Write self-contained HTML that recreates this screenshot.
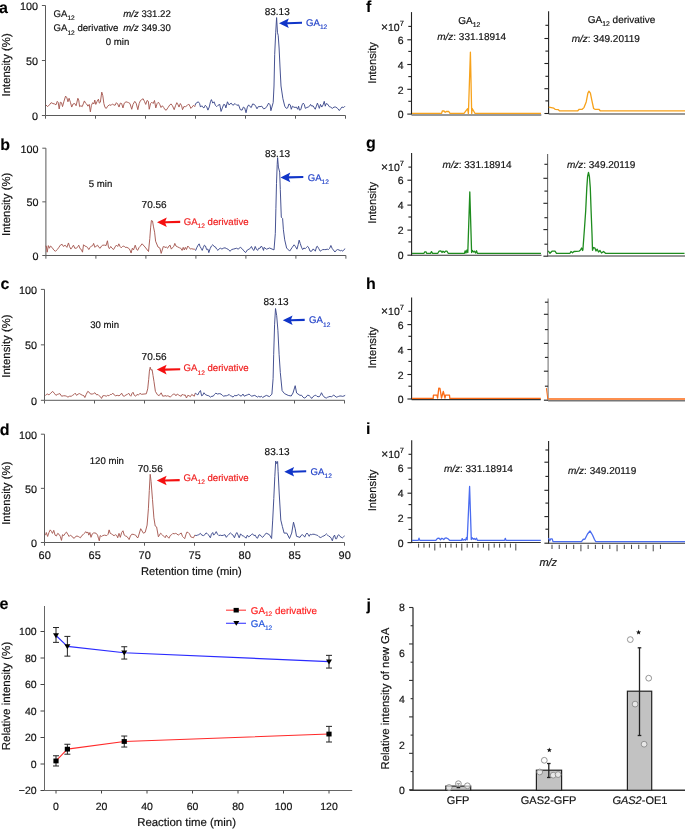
<!DOCTYPE html>
<html><head><meta charset="utf-8"><style>
html,body{margin:0;padding:0;background:#fff;overflow:hidden;width:685px;height:829px;}
svg{display:block;font-family:"Liberation Sans", sans-serif;will-change:transform;text-rendering:geometricPrecision;}
</style></head><body>
<svg width="685" height="829" viewBox="0 0 685 829">
<rect width="685" height="829" fill="#fff"/>
<line x1="45.50" y1="5.50" x2="45.50" y2="115.50" stroke="#5a5a5a" stroke-width="1" />
<line x1="41.90" y1="5.50" x2="45.50" y2="5.50" stroke="#5a5a5a" stroke-width="1" />
<text x="38.10" y="9.80" font-size="10.8" text-anchor="end" fill="#111" stroke="#111" stroke-width="0.18" font-weight="normal" font-style="normal" >100</text>
<line x1="41.90" y1="60.50" x2="45.50" y2="60.50" stroke="#5a5a5a" stroke-width="1" />
<text x="38.10" y="64.80" font-size="10.8" text-anchor="end" fill="#111" stroke="#111" stroke-width="0.18" font-weight="normal" font-style="normal" >50</text>
<line x1="41.90" y1="115.50" x2="45.50" y2="115.50" stroke="#5a5a5a" stroke-width="1" />
<text x="38.10" y="119.80" font-size="10.8" text-anchor="end" fill="#111" stroke="#111" stroke-width="0.18" font-weight="normal" font-style="normal" >0</text>
<line x1="45.50" y1="115.50" x2="345.50" y2="115.50" stroke="#5a5a5a" stroke-width="1" />
<line x1="45.50" y1="115.50" x2="45.50" y2="118.70" stroke="#5a5a5a" stroke-width="1" />
<line x1="95.50" y1="115.50" x2="95.50" y2="118.70" stroke="#5a5a5a" stroke-width="1" />
<line x1="145.50" y1="115.50" x2="145.50" y2="118.70" stroke="#5a5a5a" stroke-width="1" />
<line x1="195.50" y1="115.50" x2="195.50" y2="118.70" stroke="#5a5a5a" stroke-width="1" />
<line x1="245.50" y1="115.50" x2="245.50" y2="118.70" stroke="#5a5a5a" stroke-width="1" />
<line x1="295.50" y1="115.50" x2="295.50" y2="118.70" stroke="#5a5a5a" stroke-width="1" />
<line x1="345.50" y1="115.50" x2="345.50" y2="118.70" stroke="#5a5a5a" stroke-width="1" />
<text x="-0.90" y="13.10" font-size="16" text-anchor="start" fill="#000" stroke="#000" stroke-width="0.1" font-weight="bold" font-style="normal" >a</text>
<text x="0" y="0" font-size="11.4" text-anchor="middle" fill="#111" stroke="#111" stroke-width="0.18" transform="translate(10.0,64.85) rotate(-90)">Intensity (%)</text>
<polyline points="45.88,104.86 47.63,106.61 49.38,104.86 51.13,102.67 52.88,103.54 54.64,103.98 55.95,104.86 57.26,101.35 58.14,102.23 59.19,108.98 60.33,102.23 61.47,102.67 62.52,106.61 63.83,101.79 65.58,96.09 66.90,97.84 67.95,101.79 69.09,98.28 70.40,102.23 71.72,107.05 73.03,103.98 74.78,103.54 76.09,105.74 77.85,98.28 78.72,100.04 79.60,106.61 80.91,105.74 82.23,106.61 83.54,103.11 84.42,100.91 85.47,103.11 86.61,103.98 87.92,106.18 89.23,104.42 90.37,111.88 91.42,105.30 92.74,102.67 93.88,103.98 94.75,100.04 95.80,104.42 97.12,101.35 98.43,99.16 99.31,103.11 100.36,102.23 101.76,92.14 102.81,95.65 103.86,103.54 105.00,107.49 106.31,108.37 107.63,106.18 109.38,104.86 111.13,105.30 112.45,103.98 113.76,104.86 115.07,105.30 116.39,102.67 117.70,103.98 119.01,107.05 120.33,103.11 121.64,103.54 122.96,107.93 124.27,103.11 126.02,101.79 127.34,102.23 128.65,102.67 129.96,103.54 131.72,109.25 133.03,104.42 134.78,101.35 136.09,103.11 137.85,109.68 139.16,103.54 140.47,100.47 141.79,99.60 143.10,98.72 144.42,101.35 145.73,104.42 147.04,100.47 148.36,101.35 149.23,109.25 150.55,103.54 151.86,102.23 153.18,103.54 154.49,100.47 155.80,107.93 157.12,103.54 158.43,102.23 159.74,104.42 161.06,107.49 162.37,105.74 163.69,107.49 165.00,109.68 166.31,110.12 168.07,107.49 169.82,104.86 171.13,103.98 172.45,105.74 174.20,109.68 175.51,105.74 176.82,102.67 178.14,104.86 179.01,107.05 180.33,103.54 181.64,105.74 182.52,109.68 183.83,106.61 185.58,106.61 186.90,105.74 188.65,103.98 189.96,106.18 190.84,108.37 192.15,107.05 193.47,105.30 194.78,106.61 195.20,105.15" fill="none" stroke="#a65a52" stroke-width="0.95" stroke-linejoin="round" />
<polyline points="195.20,105.15 195.66,103.54 196.97,102.67 198.28,101.79 199.60,103.54 200.47,107.05 201.79,105.74 202.66,107.05 203.98,107.93 205.29,105.30 206.61,106.61 207.92,110.12 209.23,107.05 210.55,101.35 211.42,99.60 212.74,103.11 214.05,101.79 215.36,105.30 216.68,106.61 217.99,105.30 219.74,104.42 221.06,111.44 222.37,107.93 223.69,104.42 225.00,104.86 225.88,107.93 227.45,101.79 228.94,104.86 231.13,103.11 232.88,105.30 235.07,103.54 236.82,105.30 238.58,104.86 240.33,109.68 242.08,110.12 243.39,107.05 244.71,107.93 246.02,112.75 247.34,107.05 248.65,104.86 249.96,106.61 251.28,107.49 252.59,103.98 254.34,104.42 255.66,106.18 256.97,108.81 258.28,106.61 260.04,106.61 261.79,106.18 263.54,108.81 265.29,108.37 267.04,106.18 268.62,103.11 270.11,104.86 270.90,110.70 273.20,102.50 274.00,86.00 274.70,54.30 275.70,32.80 276.60,17.60 277.50,32.80 278.20,35.30 279.10,48.00 280.00,67.00 281.00,86.00 282.90,98.70 284.80,106.30 286.10,108.20 286.31,108.37 287.63,107.93 288.94,103.98 290.26,104.86 291.31,109.25 292.45,106.18 293.76,107.05 295.07,107.49 296.39,107.05 297.70,109.25 298.58,106.18 299.45,110.12 300.77,109.68 302.08,104.86 303.22,103.11 304.27,104.42 305.32,108.37 306.90,107.49 308.21,107.05 309.53,106.18 310.58,104.42 311.72,106.18 313.03,105.74 314.34,107.93 315.22,109.25 316.36,106.18 317.41,103.11 318.46,105.74 319.34,108.37 320.47,104.42 321.79,107.05 323.10,104.86 324.24,101.35 325.29,106.18 326.17,103.54 327.92,104.42 329.23,106.61 330.55,107.05 332.30,108.37 334.05,107.05 335.80,107.05 337.55,108.37 339.31,110.56 340.62,108.81 341.93,107.05 343.69,107.49 345.00,106.18" fill="none" stroke="#3d4a8c" stroke-width="0.95" stroke-linejoin="round" />
<text x="53.50" y="16.70" font-size="9.6" text-anchor="start" fill="#111" stroke="#111" stroke-width="0.18" font-weight="normal" font-style="normal" >GA<tspan font-size="6.60" dy="3.30">12</tspan><tspan dy="-3.30"> </tspan></text>
<text x="170.80" y="16.70" font-size="9.6" text-anchor="end" fill="#111" stroke="#111" stroke-width="0.18" font-weight="normal" font-style="normal" ><tspan font-style="italic">m/z</tspan> 331.22</text>
<text x="53.50" y="31.30" font-size="9.6" text-anchor="start" fill="#111" stroke="#111" stroke-width="0.18" font-weight="normal" font-style="normal" >GA<tspan font-size="6.60" dy="3.30">12</tspan><tspan dy="-3.30"> </tspan>derivative</text>
<text x="170.80" y="31.30" font-size="9.6" text-anchor="end" fill="#111" stroke="#111" stroke-width="0.18" font-weight="normal" font-style="normal" ><tspan font-style="italic">m/z</tspan> 349.30</text>
<text x="117.60" y="45.20" font-size="9.6" text-anchor="middle" fill="#111" stroke="#111" stroke-width="0.18" font-weight="normal" font-style="normal" >0 min</text>
<text x="277.20" y="14.50" font-size="10" text-anchor="middle" fill="#111" stroke="#111" stroke-width="0.18" font-weight="normal" font-style="normal" >83.13</text>
<polygon points="279.00,23.20 288.80,18.40 287.30,22.15 302.00,21.75 302.00,23.85 287.30,24.25 288.80,28.00" fill="#1035c8" />
<text x="306.00" y="26.10" font-size="9.6" text-anchor="start" fill="#2040c8" stroke="#2040c8" stroke-width="0.18" font-weight="normal" font-style="normal" >GA<tspan font-size="6.60" dy="3.30">12</tspan><tspan dy="-3.30"> </tspan></text>
<line x1="45.90" y1="148.20" x2="45.90" y2="255.50" stroke="#5a5a5a" stroke-width="1" />
<line x1="42.30" y1="148.20" x2="45.90" y2="148.20" stroke="#5a5a5a" stroke-width="1" />
<text x="38.50" y="152.50" font-size="10.8" text-anchor="end" fill="#111" stroke="#111" stroke-width="0.18" font-weight="normal" font-style="normal" >100</text>
<line x1="42.30" y1="201.85" x2="45.90" y2="201.85" stroke="#5a5a5a" stroke-width="1" />
<text x="38.50" y="206.15" font-size="10.8" text-anchor="end" fill="#111" stroke="#111" stroke-width="0.18" font-weight="normal" font-style="normal" >50</text>
<line x1="42.30" y1="255.50" x2="45.90" y2="255.50" stroke="#5a5a5a" stroke-width="1" />
<text x="38.50" y="259.80" font-size="10.8" text-anchor="end" fill="#111" stroke="#111" stroke-width="0.18" font-weight="normal" font-style="normal" >0</text>
<line x1="45.90" y1="255.50" x2="345.90" y2="255.50" stroke="#5a5a5a" stroke-width="1" />
<line x1="45.90" y1="255.50" x2="45.90" y2="258.70" stroke="#5a5a5a" stroke-width="1" />
<line x1="95.90" y1="255.50" x2="95.90" y2="258.70" stroke="#5a5a5a" stroke-width="1" />
<line x1="145.90" y1="255.50" x2="145.90" y2="258.70" stroke="#5a5a5a" stroke-width="1" />
<line x1="195.90" y1="255.50" x2="195.90" y2="258.70" stroke="#5a5a5a" stroke-width="1" />
<line x1="245.90" y1="255.50" x2="245.90" y2="258.70" stroke="#5a5a5a" stroke-width="1" />
<line x1="295.90" y1="255.50" x2="295.90" y2="258.70" stroke="#5a5a5a" stroke-width="1" />
<line x1="345.90" y1="255.50" x2="345.90" y2="258.70" stroke="#5a5a5a" stroke-width="1" />
<text x="0.20" y="149.80" font-size="16" text-anchor="start" fill="#000" stroke="#000" stroke-width="0.1" font-weight="bold" font-style="normal" >b</text>
<text x="0" y="0" font-size="11.4" text-anchor="middle" fill="#111" stroke="#111" stroke-width="0.18" transform="translate(10.0,204.30) rotate(-90)">Intensity (%)</text>
<polyline points="45.53,246.04 46.31,246.04 47.19,252.18 48.33,245.60 49.38,248.23 50.43,246.04 52.01,247.35 53.76,249.98 55.51,251.30 57.26,249.54 58.58,247.79 60.33,245.16 62.08,244.28 63.39,246.47 65.15,245.16 66.90,247.35 68.47,242.96 69.53,246.47 70.84,249.11 72.15,247.35 73.47,245.16 74.78,248.23 76.53,248.23 77.85,246.47 78.72,245.16 80.04,248.67 81.35,249.54 82.49,252.18 83.54,244.72 84.85,246.04 86.17,246.47 87.48,247.35 88.80,249.54 90.11,247.35 91.42,246.04 92.74,245.60 93.61,243.40 94.93,247.35 96.24,246.04 97.55,245.16 98.87,247.35 100.18,248.23 101.50,246.04 102.81,245.16 104.56,245.16 105.00,245.16 106.05,245.60 107.45,240.77 108.50,247.35 109.38,248.67 110.69,246.47 112.01,248.23 113.58,249.54 115.07,246.91 116.39,245.16 117.70,246.47 118.84,243.84 120.07,246.47 121.20,247.79 122.52,246.47 123.83,246.04 125.15,247.35 126.90,247.35 128.65,248.23 129.96,249.98 131.10,253.05 132.33,248.23 133.47,249.98 135.22,245.16 136.53,249.11 137.58,250.42 139.16,247.35 140.00,246.50 142.10,243.80 145.00,247.00 148.50,251.50 149.80,238.50 150.60,227.90 151.40,220.50 152.50,221.00 153.50,226.90 154.60,232.20 155.60,241.20 158.00,247.00 159.90,248.10 161.20,253.40 163.30,246.50 166.00,247.50 166.31,246.91 167.63,248.23 168.94,246.04 170.08,245.16 171.31,249.11 172.71,247.35 173.76,246.47 174.81,243.40 175.95,246.04 177.70,246.91 179.45,247.79 180.77,248.23 182.08,250.42 183.22,247.35 184.27,249.98 185.32,247.35 186.46,249.54 187.77,246.04 189.09,247.35 190.40,249.11 191.72,248.67 193.03,249.11 194.34,249.11 195.20,249.96" fill="none" stroke="#a65a52" stroke-width="0.95" stroke-linejoin="round" />
<polyline points="195.20,249.96 195.66,250.42 196.71,247.79 198.11,245.16 199.16,243.84 200.04,246.47 201.09,248.23 202.23,250.42 203.36,247.35 204.42,245.16 205.47,246.04 206.61,249.54 207.92,249.11 208.80,252.61 210.11,248.67 211.42,246.04 212.74,244.72 214.05,246.47 215.36,246.91 216.68,249.11 217.99,250.42 219.31,248.67 220.62,248.23 221.93,249.11 223.25,248.23 225.00,247.79 226.75,248.67 228.50,249.54 230.08,251.30 231.57,249.54 233.32,249.11 235.07,248.67 236.39,248.23 238.14,249.11 240.33,247.35 242.08,248.67 243.83,250.86 245.58,252.61 247.34,249.98 249.09,249.11 250.40,248.23 251.45,246.47 252.85,249.54 253.91,250.42 255.22,246.47 256.36,249.11 257.58,250.42 258.72,248.23 260.04,248.23 261.35,246.04 262.49,247.79 263.54,250.42 264.00,247.40 266.50,249.20 269.60,248.00 274.00,249.90 275.30,233.60 275.90,208.50 276.50,183.40 277.20,164.50 277.60,157.60 278.40,167.10 279.70,172.10 280.30,189.60 281.30,217.20 282.60,218.50 283.40,229.80 284.70,239.80 286.60,248.00 289.70,251.10 292.20,247.40 294.10,244.80 295.31,246.30 296.95,249.16 298.18,244.66 299.16,240.17 300.22,243.44 301.45,247.11 302.67,249.57 303.90,247.93 305.12,248.75 306.35,247.52 307.58,246.30 308.80,247.93 310.03,251.20 311.66,251.20 312.89,249.16 314.12,249.57 315.34,251.20 316.57,246.71 317.39,246.30 318.61,248.34 320.25,251.20 321.47,250.38 322.70,249.57 324.34,249.57 325.97,249.57 327.20,249.16 328.42,249.57 329.65,248.34 330.88,245.48 332.10,248.34 333.33,249.97 334.96,252.02 336.19,250.38 337.42,249.57 339.05,249.97 340.28,250.79 341.50,250.38 342.73,251.20 343.96,249.57 345.18,248.75" fill="none" stroke="#3d4a8c" stroke-width="0.95" stroke-linejoin="round" />
<text x="100.50" y="186.70" font-size="9.6" text-anchor="middle" fill="#111" stroke="#111" stroke-width="0.18" font-weight="normal" font-style="normal" >5 min</text>
<text x="154.10" y="208.20" font-size="10" text-anchor="middle" fill="#111" stroke="#111" stroke-width="0.18" font-weight="normal" font-style="normal" >70.56</text>
<text x="277.50" y="156.60" font-size="10" text-anchor="middle" fill="#111" stroke="#111" stroke-width="0.18" font-weight="normal" font-style="normal" >83.13</text>
<polygon points="280.50,177.40 290.30,172.60 288.80,176.35 303.30,175.95 303.30,178.05 288.80,178.45 290.30,182.20" fill="#1035c8" />
<text x="307.70" y="180.90" font-size="9.6" text-anchor="start" fill="#2040c8" stroke="#2040c8" stroke-width="0.18" font-weight="normal" font-style="normal" >GA<tspan font-size="6.60" dy="3.30">12</tspan><tspan dy="-3.30"> </tspan></text>
<polygon points="157.00,222.30 166.80,217.50 165.30,221.25 180.20,220.85 180.20,222.95 165.30,223.35 166.80,227.10" fill="#f41010" />
<text x="183.70" y="224.70" font-size="9.6" text-anchor="start" fill="#f02020" stroke="#f02020" stroke-width="0.18" font-weight="normal" font-style="normal" >GA<tspan font-size="6.60" dy="3.30">12</tspan><tspan dy="-3.30"> </tspan>derivative</text>
<line x1="44.50" y1="289.40" x2="44.50" y2="400.30" stroke="#5a5a5a" stroke-width="1" />
<line x1="40.90" y1="289.40" x2="44.50" y2="289.40" stroke="#5a5a5a" stroke-width="1" />
<text x="37.10" y="293.70" font-size="10.8" text-anchor="end" fill="#111" stroke="#111" stroke-width="0.18" font-weight="normal" font-style="normal" >100</text>
<line x1="40.90" y1="344.85" x2="44.50" y2="344.85" stroke="#5a5a5a" stroke-width="1" />
<text x="37.10" y="349.15" font-size="10.8" text-anchor="end" fill="#111" stroke="#111" stroke-width="0.18" font-weight="normal" font-style="normal" >50</text>
<line x1="40.90" y1="400.30" x2="44.50" y2="400.30" stroke="#5a5a5a" stroke-width="1" />
<text x="37.10" y="404.60" font-size="10.8" text-anchor="end" fill="#111" stroke="#111" stroke-width="0.18" font-weight="normal" font-style="normal" >0</text>
<line x1="44.50" y1="400.30" x2="344.50" y2="400.30" stroke="#5a5a5a" stroke-width="1" />
<line x1="44.50" y1="400.30" x2="44.50" y2="403.50" stroke="#5a5a5a" stroke-width="1" />
<line x1="94.50" y1="400.30" x2="94.50" y2="403.50" stroke="#5a5a5a" stroke-width="1" />
<line x1="144.50" y1="400.30" x2="144.50" y2="403.50" stroke="#5a5a5a" stroke-width="1" />
<line x1="194.50" y1="400.30" x2="194.50" y2="403.50" stroke="#5a5a5a" stroke-width="1" />
<line x1="244.50" y1="400.30" x2="244.50" y2="403.50" stroke="#5a5a5a" stroke-width="1" />
<line x1="294.50" y1="400.30" x2="294.50" y2="403.50" stroke="#5a5a5a" stroke-width="1" />
<line x1="344.50" y1="400.30" x2="344.50" y2="403.50" stroke="#5a5a5a" stroke-width="1" />
<text x="0.40" y="289.00" font-size="16" text-anchor="start" fill="#000" stroke="#000" stroke-width="0.1" font-weight="bold" font-style="normal" >c</text>
<text x="0" y="0" font-size="11.4" text-anchor="middle" fill="#111" stroke="#111" stroke-width="0.18" transform="translate(10.0,346.00) rotate(-90)">Intensity (%)</text>
<polyline points="45.53,395.61 46.31,394.47 47.63,394.04 48.94,394.91 50.69,393.16 52.71,391.40 54.20,393.16 55.95,395.35 57.26,394.47 58.58,394.04 59.89,393.60 61.64,396.23 63.39,395.79 65.15,395.79 66.46,396.23 67.95,397.11 69.53,396.23 71.28,396.23 72.59,395.35 73.91,394.47 75.22,393.16 76.53,395.35 78.28,394.04 79.60,393.60 80.91,394.47 82.66,395.35 83.98,395.79 84.85,397.54 86.17,394.47 87.74,391.40 89.23,392.28 90.55,394.04 92.30,394.04 93.61,393.60 94.93,392.72 96.68,394.91 97.99,394.47 99.31,395.79 100.62,397.11 101.50,398.42 102.81,395.79 104.56,395.61 106.31,396.23 107.63,395.35 108.94,395.79 110.26,394.47 111.57,394.47 112.88,393.16 114.20,394.91 115.51,395.79 117.26,395.35 119.01,395.79 120.33,394.91 121.64,393.16 122.96,395.79 124.27,396.23 126.02,394.91 127.34,394.47 128.65,393.16 129.96,395.35 130.84,396.23 132.15,393.16 133.03,392.28 134.34,395.35 135.66,396.23 136.97,394.47 138.28,394.91 139.60,394.04 140.00,393.30 141.40,394.30 146.30,393.80 147.70,388.90 148.70,379.30 149.40,371.10 150.20,367.20 151.10,370.10 152.10,369.60 153.00,375.40 154.00,381.70 155.40,391.40 157.40,394.70 159.10,395.70 161.20,392.80 162.70,396.20 166.00,395.70 166.31,396.23 167.63,395.79 168.94,396.23 170.26,397.11 171.57,395.79 173.32,394.04 174.64,394.04 175.95,395.79 177.26,394.04 178.58,394.91 179.89,395.79 181.20,396.23 182.52,394.04 183.83,395.35 185.15,394.91 186.46,397.98 187.77,395.35 189.09,395.79 190.40,396.67 191.72,394.47 193.03,395.35 194.34,396.23 195.20,393.22" fill="none" stroke="#a65a52" stroke-width="0.95" stroke-linejoin="round" />
<polyline points="195.20,393.22 195.22,393.16 196.53,394.04 197.85,394.91 199.16,392.28 200.47,390.53 201.61,395.79 202.66,395.35 203.98,392.72 205.29,394.47 207.04,395.35 208.80,395.79 210.55,397.11 211.86,396.23 213.18,396.23 214.49,394.47 215.80,393.16 217.55,394.04 219.31,393.60 221.06,394.04 222.37,395.35 223.69,396.23 225.00,395.79 226.31,395.79 227.63,395.35 229.20,394.47 230.43,395.79 231.83,396.23 233.06,397.11 234.64,395.35 235.95,395.79 237.26,395.35 238.31,394.47 239.72,395.35 241.20,396.23 242.96,394.04 244.27,396.23 246.02,395.35 247.34,394.91 249.09,394.04 250.40,395.35 251.72,396.23 253.03,395.79 254.78,395.35 256.09,396.23 257.41,397.11 258.72,396.23 260.04,397.11 261.35,396.23 262.66,397.54 264.00,396.60 266.40,395.40 269.40,396.60 271.90,394.20 273.10,378.50 273.70,354.30 274.60,324.20 275.50,308.50 276.70,315.70 277.90,330.20 279.10,354.30 280.30,372.50 282.10,390.60 284.50,393.60 288.20,395.40 291.20,396.00 293.00,393.00 295.20,385.70 296.60,393.00 300.00,395.40 301.45,395.17 303.08,397.22 304.31,398.03 305.94,397.22 307.58,395.17 309.21,395.58 310.44,396.81 311.66,398.44 312.89,396.81 314.53,395.58 315.75,395.17 316.98,396.40 319.02,396.81 320.25,395.58 321.47,392.72 322.70,395.17 323.93,396.81 325.15,397.62 326.38,398.03 327.61,397.22 328.83,396.81 330.06,396.40 331.29,396.81 332.51,395.99 333.74,395.17 334.96,395.99 336.19,397.22 337.42,396.81 338.64,396.40 339.87,395.99 341.10,395.99 342.32,396.40 343.96,395.99 345.18,395.33" fill="none" stroke="#3d4a8c" stroke-width="0.95" stroke-linejoin="round" />
<text x="104.60" y="328.40" font-size="9.6" text-anchor="middle" fill="#111" stroke="#111" stroke-width="0.18" font-weight="normal" font-style="normal" >30 min</text>
<text x="154.10" y="360.10" font-size="10" text-anchor="middle" fill="#111" stroke="#111" stroke-width="0.18" font-weight="normal" font-style="normal" >70.56</text>
<text x="276.00" y="304.80" font-size="10" text-anchor="middle" fill="#111" stroke="#111" stroke-width="0.18" font-weight="normal" font-style="normal" >83.13</text>
<polygon points="282.80,320.30 292.60,315.50 291.10,319.25 304.70,318.85 304.70,320.95 291.10,321.35 292.60,325.10" fill="#1035c8" />
<text x="309.10" y="323.20" font-size="9.6" text-anchor="start" fill="#2040c8" stroke="#2040c8" stroke-width="0.18" font-weight="normal" font-style="normal" >GA<tspan font-size="6.60" dy="3.30">12</tspan><tspan dy="-3.30"> </tspan></text>
<polygon points="156.80,369.60 166.60,364.80 165.10,368.55 180.20,368.15 180.20,370.25 165.10,370.65 166.60,374.40" fill="#f41010" />
<text x="183.60" y="371.40" font-size="9.6" text-anchor="start" fill="#f02020" stroke="#f02020" stroke-width="0.18" font-weight="normal" font-style="normal" >GA<tspan font-size="6.60" dy="3.30">12</tspan><tspan dy="-3.30"> </tspan>derivative</text>
<line x1="44.50" y1="434.20" x2="44.50" y2="542.50" stroke="#5a5a5a" stroke-width="1" />
<line x1="40.90" y1="434.20" x2="44.50" y2="434.20" stroke="#5a5a5a" stroke-width="1" />
<text x="37.10" y="438.50" font-size="10.8" text-anchor="end" fill="#111" stroke="#111" stroke-width="0.18" font-weight="normal" font-style="normal" >100</text>
<line x1="40.90" y1="488.35" x2="44.50" y2="488.35" stroke="#5a5a5a" stroke-width="1" />
<text x="37.10" y="492.65" font-size="10.8" text-anchor="end" fill="#111" stroke="#111" stroke-width="0.18" font-weight="normal" font-style="normal" >50</text>
<line x1="40.90" y1="542.50" x2="44.50" y2="542.50" stroke="#5a5a5a" stroke-width="1" />
<text x="37.10" y="546.80" font-size="10.8" text-anchor="end" fill="#111" stroke="#111" stroke-width="0.18" font-weight="normal" font-style="normal" >0</text>
<line x1="44.50" y1="542.50" x2="344.50" y2="542.50" stroke="#5a5a5a" stroke-width="1" />
<line x1="44.50" y1="542.50" x2="44.50" y2="545.70" stroke="#5a5a5a" stroke-width="1" />
<text x="44.70" y="559.10" font-size="11" text-anchor="middle" fill="#111" stroke="#111" stroke-width="0.18" font-weight="normal" font-style="normal" >60</text>
<line x1="94.50" y1="542.50" x2="94.50" y2="545.70" stroke="#5a5a5a" stroke-width="1" />
<text x="94.70" y="559.10" font-size="11" text-anchor="middle" fill="#111" stroke="#111" stroke-width="0.18" font-weight="normal" font-style="normal" >65</text>
<line x1="144.50" y1="542.50" x2="144.50" y2="545.70" stroke="#5a5a5a" stroke-width="1" />
<text x="144.70" y="559.10" font-size="11" text-anchor="middle" fill="#111" stroke="#111" stroke-width="0.18" font-weight="normal" font-style="normal" >70</text>
<line x1="194.50" y1="542.50" x2="194.50" y2="545.70" stroke="#5a5a5a" stroke-width="1" />
<text x="194.70" y="559.10" font-size="11" text-anchor="middle" fill="#111" stroke="#111" stroke-width="0.18" font-weight="normal" font-style="normal" >75</text>
<line x1="244.50" y1="542.50" x2="244.50" y2="545.70" stroke="#5a5a5a" stroke-width="1" />
<text x="244.70" y="559.10" font-size="11" text-anchor="middle" fill="#111" stroke="#111" stroke-width="0.18" font-weight="normal" font-style="normal" >80</text>
<line x1="294.50" y1="542.50" x2="294.50" y2="545.70" stroke="#5a5a5a" stroke-width="1" />
<text x="294.70" y="559.10" font-size="11" text-anchor="middle" fill="#111" stroke="#111" stroke-width="0.18" font-weight="normal" font-style="normal" >85</text>
<line x1="344.50" y1="542.50" x2="344.50" y2="545.70" stroke="#5a5a5a" stroke-width="1" />
<text x="344.70" y="559.10" font-size="11" text-anchor="middle" fill="#111" stroke="#111" stroke-width="0.18" font-weight="normal" font-style="normal" >90</text>
<text x="-0.20" y="434.60" font-size="16" text-anchor="start" fill="#000" stroke="#000" stroke-width="0.1" font-weight="bold" font-style="normal" >d</text>
<text x="0" y="0" font-size="11.4" text-anchor="middle" fill="#111" stroke="#111" stroke-width="0.18" transform="translate(10.0,493.20) rotate(-90)">Intensity (%)</text>
<polyline points="45.53,535.15 46.31,532.52 47.63,536.46 48.94,532.52 50.26,529.89 51.57,531.64 52.45,533.39 53.76,530.33 55.07,535.15 56.39,536.02 57.70,533.39 59.01,534.27 60.33,536.46 61.47,540.40 62.52,534.71 63.83,535.58 65.15,533.39 66.46,532.08 67.77,534.27 69.09,536.46 70.40,535.15 71.72,536.02 73.03,537.78 74.34,538.21 75.66,536.46 76.97,536.02 78.28,536.46 79.60,537.34 80.47,537.78 81.79,535.58 83.10,534.71 84.42,533.39 85.73,531.64 86.87,532.96 87.92,532.08 88.80,535.15 89.85,532.52 90.99,537.34 92.30,533.83 93.61,532.96 94.93,532.96 96.24,533.39 97.55,535.15 98.43,538.21 99.31,540.84 100.18,535.58 101.50,536.46 102.81,535.58 104.56,535.15 106.75,535.58 108.07,534.27 109.12,529.89 110.26,533.39 111.57,533.83 112.88,535.15 114.20,535.58 115.51,534.71 116.82,535.58 117.70,537.78 119.01,533.39 120.33,537.34 121.64,532.52 122.96,530.76 124.27,535.15 125.58,536.02 126.90,536.46 128.21,538.21 129.09,539.53 130.40,536.02 131.72,534.27 133.03,534.27 134.34,534.71 135.66,535.15 136.97,537.34 138.00,537.70 140.70,528.70 143.40,533.20 145.20,532.30 147.10,525.10 148.40,508.80 149.30,490.60 150.20,474.30 151.10,481.60 152.50,499.70 153.90,517.80 155.20,526.00 156.60,526.90 158.40,536.80 160.60,533.20 162.50,535.00 165.20,537.70 166.31,535.15 167.63,536.90 168.94,538.21 170.26,535.58 171.57,534.71 172.88,533.39 174.20,533.83 175.51,533.39 176.82,533.83 178.14,535.15 179.45,534.27 181.20,532.96 182.52,536.46 183.83,537.78 184.71,538.65 186.02,534.27 186.90,532.08 188.21,532.52 189.53,533.83 190.84,536.90 192.15,537.34 193.47,537.78 194.78,535.15 195.20,535.29" fill="none" stroke="#a65a52" stroke-width="0.95" stroke-linejoin="round" />
<polyline points="195.20,535.29 196.09,535.58 197.41,535.15 198.72,534.71 200.47,533.39 201.79,535.15 203.54,535.58 204.85,534.71 205.99,532.96 207.04,533.39 208.36,534.71 209.23,536.02 210.37,537.78 211.42,534.27 212.74,532.52 213.61,535.15 214.93,533.83 216.24,531.64 217.55,534.27 218.87,535.58 220.18,535.15 221.93,535.58 223.69,535.15 225.00,534.71 226.31,537.34 227.63,535.58 228.94,534.27 230.43,532.96 231.83,534.27 233.06,535.15 234.46,537.78 235.69,534.27 236.82,532.52 238.14,535.15 239.19,537.78 240.59,533.83 242.08,535.58 243.39,536.02 244.71,536.90 246.02,538.21 247.34,535.15 248.65,536.90 249.96,536.02 251.28,534.71 252.59,533.83 253.91,535.58 255.22,535.15 256.53,537.78 257.58,538.21 258.72,535.15 260.04,534.71 261.35,536.46 262.66,537.34 264.00,535.80 266.20,533.10 269.40,534.70 271.60,538.50 272.70,520.10 273.80,498.40 274.80,476.70 275.70,461.00 276.80,463.70 277.60,461.50 278.10,471.30 279.20,493.00 280.80,520.10 282.40,526.60 284.10,533.10 286.80,533.10 289.50,538.50 291.70,533.10 293.50,522.20 295.20,528.80 296.50,536.30 300.00,537.40 301.04,535.49 302.26,534.67 303.49,535.49 304.72,537.13 305.94,534.26 307.00,533.04 307.99,534.26 309.21,536.31 310.27,534.26 311.42,534.67 312.73,534.26 314.12,534.26 315.34,534.67 316.57,535.08 317.80,535.49 319.02,536.72 320.25,537.54 321.47,537.13 322.70,536.31 323.93,535.90 325.15,535.08 326.38,533.86 327.61,535.08 328.83,536.31 330.06,536.72 331.29,538.35 332.35,540.81 333.33,537.13 334.56,535.08 335.62,538.76 336.60,538.76 337.58,535.90 338.64,534.67 339.87,536.31 341.10,537.13 342.32,537.94 343.55,536.72 344.61,535.90" fill="none" stroke="#3d4a8c" stroke-width="0.95" stroke-linejoin="round" />
<text x="106.80" y="463.50" font-size="9.6" text-anchor="middle" fill="#111" stroke="#111" stroke-width="0.18" font-weight="normal" font-style="normal" >120 min</text>
<text x="150.20" y="471.70" font-size="10" text-anchor="middle" fill="#111" stroke="#111" stroke-width="0.18" font-weight="normal" font-style="normal" >70.56</text>
<text x="277.10" y="455.40" font-size="10" text-anchor="middle" fill="#111" stroke="#111" stroke-width="0.18" font-weight="normal" font-style="normal" >83.13</text>
<polygon points="284.30,471.70 294.10,466.90 292.60,470.65 306.20,470.25 306.20,472.35 292.60,472.75 294.10,476.50" fill="#1035c8" />
<text x="310.60" y="474.60" font-size="9.6" text-anchor="start" fill="#2040c8" stroke="#2040c8" stroke-width="0.18" font-weight="normal" font-style="normal" >GA<tspan font-size="6.60" dy="3.30">12</tspan><tspan dy="-3.30"> </tspan></text>
<polygon points="156.80,480.50 166.60,475.70 165.10,479.45 179.70,479.05 179.70,481.15 165.10,481.55 166.60,485.30" fill="#f41010" />
<text x="183.60" y="481.10" font-size="9.6" text-anchor="start" fill="#f02020" stroke="#f02020" stroke-width="0.18" font-weight="normal" font-style="normal" >GA<tspan font-size="6.60" dy="3.30">12</tspan><tspan dy="-3.30"> </tspan>derivative</text>
<text x="191.40" y="575.00" font-size="11.2" text-anchor="middle" fill="#111" stroke="#111" stroke-width="0.18" font-weight="normal" font-style="normal" >Retention time (min)</text>
<line x1="44.50" y1="606.00" x2="44.50" y2="790.50" stroke="#666" stroke-width="1" />
<line x1="44.50" y1="790.50" x2="352.20" y2="790.50" stroke="#666" stroke-width="1" />
<line x1="40.50" y1="631.50" x2="44.50" y2="631.50" stroke="#444" stroke-width="1" />
<text x="36.60" y="635.20" font-size="10.5" text-anchor="end" fill="#111" stroke="#111" stroke-width="0.18" font-weight="normal" font-style="normal" >100</text>
<line x1="40.50" y1="658.00" x2="44.50" y2="658.00" stroke="#444" stroke-width="1" />
<text x="36.60" y="661.70" font-size="10.5" text-anchor="end" fill="#111" stroke="#111" stroke-width="0.18" font-weight="normal" font-style="normal" >80</text>
<line x1="40.50" y1="684.50" x2="44.50" y2="684.50" stroke="#444" stroke-width="1" />
<text x="36.60" y="688.20" font-size="10.5" text-anchor="end" fill="#111" stroke="#111" stroke-width="0.18" font-weight="normal" font-style="normal" >60</text>
<line x1="40.50" y1="711.00" x2="44.50" y2="711.00" stroke="#444" stroke-width="1" />
<text x="36.60" y="714.70" font-size="10.5" text-anchor="end" fill="#111" stroke="#111" stroke-width="0.18" font-weight="normal" font-style="normal" >40</text>
<line x1="40.50" y1="737.50" x2="44.50" y2="737.50" stroke="#444" stroke-width="1" />
<text x="36.60" y="741.20" font-size="10.5" text-anchor="end" fill="#111" stroke="#111" stroke-width="0.18" font-weight="normal" font-style="normal" >20</text>
<line x1="40.50" y1="764.00" x2="44.50" y2="764.00" stroke="#444" stroke-width="1" />
<text x="36.60" y="767.70" font-size="10.5" text-anchor="end" fill="#111" stroke="#111" stroke-width="0.18" font-weight="normal" font-style="normal" >0</text>
<line x1="40.50" y1="790.50" x2="44.50" y2="790.50" stroke="#444" stroke-width="1" />
<text x="36.60" y="794.20" font-size="10.5" text-anchor="end" fill="#111" stroke="#111" stroke-width="0.18" font-weight="normal" font-style="normal" >−20</text>
<line x1="56.00" y1="790.50" x2="56.00" y2="793.50" stroke="#444" stroke-width="1" />
<text x="56.00" y="809.90" font-size="10.5" text-anchor="middle" fill="#111" stroke="#111" stroke-width="0.18" font-weight="normal" font-style="normal" >0</text>
<line x1="101.50" y1="790.50" x2="101.50" y2="793.50" stroke="#444" stroke-width="1" />
<text x="101.50" y="809.90" font-size="10.5" text-anchor="middle" fill="#111" stroke="#111" stroke-width="0.18" font-weight="normal" font-style="normal" >20</text>
<line x1="147.00" y1="790.50" x2="147.00" y2="793.50" stroke="#444" stroke-width="1" />
<text x="147.00" y="809.90" font-size="10.5" text-anchor="middle" fill="#111" stroke="#111" stroke-width="0.18" font-weight="normal" font-style="normal" >40</text>
<line x1="192.50" y1="790.50" x2="192.50" y2="793.50" stroke="#444" stroke-width="1" />
<text x="192.50" y="809.90" font-size="10.5" text-anchor="middle" fill="#111" stroke="#111" stroke-width="0.18" font-weight="normal" font-style="normal" >60</text>
<line x1="238.00" y1="790.50" x2="238.00" y2="793.50" stroke="#444" stroke-width="1" />
<text x="238.00" y="809.90" font-size="10.5" text-anchor="middle" fill="#111" stroke="#111" stroke-width="0.18" font-weight="normal" font-style="normal" >80</text>
<line x1="283.50" y1="790.50" x2="283.50" y2="793.50" stroke="#444" stroke-width="1" />
<text x="283.50" y="809.90" font-size="10.5" text-anchor="middle" fill="#111" stroke="#111" stroke-width="0.18" font-weight="normal" font-style="normal" >100</text>
<line x1="329.00" y1="790.50" x2="329.00" y2="793.50" stroke="#444" stroke-width="1" />
<text x="329.00" y="809.90" font-size="10.5" text-anchor="middle" fill="#111" stroke="#111" stroke-width="0.18" font-weight="normal" font-style="normal" >120</text>
<text x="186.60" y="825.90" font-size="11.4" text-anchor="middle" fill="#111" stroke="#111" stroke-width="0.18" font-weight="normal" font-style="normal" >Reaction time (min)</text>
<text x="0" y="0" font-size="11.55" text-anchor="middle" fill="#111" stroke="#111" stroke-width="0.18" transform="translate(10.2,696) rotate(-90)">Relative intensity (%)</text>
<text x="-0.60" y="609.30" font-size="16" text-anchor="start" fill="#000" stroke="#000" stroke-width="0.1" font-weight="bold" font-style="normal" >e</text>
<polyline points="56.00,760.95 67.38,749.16 124.25,741.48 329.00,734.05" fill="none" stroke="#ff2a2a" stroke-width="1.1" stroke-linejoin="round" />
<polyline points="56.00,635.48 67.38,646.34 124.25,652.70 329.00,661.58" fill="none" stroke="#2a2aff" stroke-width="1.1" stroke-linejoin="round" />
<line x1="56.00" y1="765.99" x2="56.00" y2="755.78" stroke="#222" stroke-width="1" />
<line x1="53.00" y1="765.99" x2="59.00" y2="765.99" stroke="#222" stroke-width="1" />
<line x1="53.00" y1="755.78" x2="59.00" y2="755.78" stroke="#222" stroke-width="1" />
<rect x="53.40" y="758.55" width="5.2" height="4.8" fill="#000"/>
<line x1="67.38" y1="754.20" x2="67.38" y2="744.26" stroke="#222" stroke-width="1" />
<line x1="64.38" y1="754.20" x2="70.38" y2="754.20" stroke="#222" stroke-width="1" />
<line x1="64.38" y1="744.26" x2="70.38" y2="744.26" stroke="#222" stroke-width="1" />
<rect x="64.78" y="746.76" width="5.2" height="4.8" fill="#000"/>
<line x1="124.25" y1="747.04" x2="124.25" y2="736.04" stroke="#222" stroke-width="1" />
<line x1="121.25" y1="747.04" x2="127.25" y2="747.04" stroke="#222" stroke-width="1" />
<line x1="121.25" y1="736.04" x2="127.25" y2="736.04" stroke="#222" stroke-width="1" />
<rect x="121.65" y="739.08" width="5.2" height="4.8" fill="#000"/>
<line x1="329.00" y1="742.00" x2="329.00" y2="726.37" stroke="#222" stroke-width="1" />
<line x1="326.00" y1="742.00" x2="332.00" y2="742.00" stroke="#222" stroke-width="1" />
<line x1="326.00" y1="726.37" x2="332.00" y2="726.37" stroke="#222" stroke-width="1" />
<rect x="326.40" y="731.65" width="5.2" height="4.8" fill="#000"/>
<line x1="56.00" y1="642.37" x2="56.00" y2="627.52" stroke="#222" stroke-width="1" />
<line x1="53.00" y1="642.37" x2="59.00" y2="642.37" stroke="#222" stroke-width="1" />
<line x1="53.00" y1="627.52" x2="59.00" y2="627.52" stroke="#222" stroke-width="1" />
<polygon points="53.00,633.27 59.00,633.27 56.00,638.27" fill="#000" />
<line x1="67.38" y1="656.14" x2="67.38" y2="636.40" stroke="#222" stroke-width="1" />
<line x1="64.38" y1="656.14" x2="70.38" y2="656.14" stroke="#222" stroke-width="1" />
<line x1="64.38" y1="636.40" x2="70.38" y2="636.40" stroke="#222" stroke-width="1" />
<polygon points="64.38,644.14 70.38,644.14 67.38,649.14" fill="#000" />
<line x1="124.25" y1="659.06" x2="124.25" y2="646.74" stroke="#222" stroke-width="1" />
<line x1="121.25" y1="659.06" x2="127.25" y2="659.06" stroke="#222" stroke-width="1" />
<line x1="121.25" y1="646.74" x2="127.25" y2="646.74" stroke="#222" stroke-width="1" />
<polygon points="121.25,650.50 127.25,650.50 124.25,655.50" fill="#000" />
<line x1="329.00" y1="668.07" x2="329.00" y2="655.35" stroke="#222" stroke-width="1" />
<line x1="326.00" y1="668.07" x2="332.00" y2="668.07" stroke="#222" stroke-width="1" />
<line x1="326.00" y1="655.35" x2="332.00" y2="655.35" stroke="#222" stroke-width="1" />
<polygon points="326.00,659.38 332.00,659.38 329.00,664.38" fill="#000" />
<line x1="226.00" y1="610.20" x2="246.00" y2="610.20" stroke="#ff4a4a" stroke-width="1.2" />
<rect x="233.6" y="607.9" width="5.2" height="4.6" fill="#000"/>
<text x="250.80" y="613.70" font-size="9.8" text-anchor="start" fill="#ff2020" stroke="#ff2020" stroke-width="0.18" font-weight="normal" font-style="normal" >GA<tspan font-size="6.60" dy="2.70">12</tspan><tspan dy="-2.70"> </tspan>derivative</text>
<line x1="226.00" y1="623.30" x2="246.00" y2="623.30" stroke="#4a4aff" stroke-width="1.2" />
<polygon points="233.30,621.00 239.30,621.00 236.30,625.80" fill="#000" />
<text x="250.80" y="627.00" font-size="9.8" text-anchor="start" fill="#2255dd" stroke="#2255dd" stroke-width="0.18" font-weight="normal" font-style="normal" >GA<tspan font-size="6.60" dy="2.70">12</tspan><tspan dy="-2.70"> </tspan></text>
<line x1="411.50" y1="12.10" x2="411.50" y2="114.60" stroke="#222" stroke-width="1.1" />
<line x1="407.30" y1="114.10" x2="411.50" y2="114.10" stroke="#222" stroke-width="1.1" />
<text x="403.50" y="118.30" font-size="10.5" text-anchor="end" fill="#111" stroke="#111" stroke-width="0.18" font-weight="normal" font-style="normal" >0</text>
<line x1="408.30" y1="101.30" x2="411.50" y2="101.30" stroke="#222" stroke-width="1.1" />
<line x1="407.30" y1="89.30" x2="411.50" y2="89.30" stroke="#222" stroke-width="1.1" />
<text x="403.50" y="93.50" font-size="10.5" text-anchor="end" fill="#111" stroke="#111" stroke-width="0.18" font-weight="normal" font-style="normal" >2</text>
<line x1="408.30" y1="76.60" x2="411.50" y2="76.60" stroke="#222" stroke-width="1.1" />
<line x1="407.30" y1="64.50" x2="411.50" y2="64.50" stroke="#222" stroke-width="1.1" />
<text x="403.50" y="68.70" font-size="10.5" text-anchor="end" fill="#111" stroke="#111" stroke-width="0.18" font-weight="normal" font-style="normal" >4</text>
<line x1="408.30" y1="51.40" x2="411.50" y2="51.40" stroke="#222" stroke-width="1.1" />
<line x1="407.30" y1="39.80" x2="411.50" y2="39.80" stroke="#222" stroke-width="1.1" />
<text x="403.50" y="44.00" font-size="10.5" text-anchor="end" fill="#111" stroke="#111" stroke-width="0.18" font-weight="normal" font-style="normal" >6</text>
<line x1="408.30" y1="26.40" x2="411.50" y2="26.40" stroke="#222" stroke-width="1.1" />
<text x="403.90" y="30.50" font-size="10.5" text-anchor="end" fill="#111" stroke="#111" stroke-width="0.18" font-weight="normal" font-style="normal" ><tspan font-size="12">×</tspan>10<tspan font-size="7.6" dy="-5.0">7</tspan></text>
<text x="0" y="0" font-size="11.2" text-anchor="middle" fill="#111" stroke="#111" stroke-width="0.18" transform="translate(376.0,62.90) rotate(-90)">Intensity</text>
<text x="365.90" y="11.90" font-size="16" text-anchor="start" fill="#000" stroke="#000" stroke-width="0.1" font-weight="bold" font-style="normal" >f</text>
<line x1="411.50" y1="115.00" x2="541.30" y2="115.00" stroke="#777" stroke-width="1.4" />
<line x1="548.60" y1="11.30" x2="548.60" y2="114.00" stroke="#222" stroke-width="1.1" />
<line x1="544.40" y1="113.50" x2="548.60" y2="113.50" stroke="#222" stroke-width="1.1" />
<line x1="545.40" y1="100.90" x2="548.60" y2="100.90" stroke="#222" stroke-width="1.1" />
<line x1="544.40" y1="88.70" x2="548.60" y2="88.70" stroke="#222" stroke-width="1.1" />
<line x1="545.40" y1="76.30" x2="548.60" y2="76.30" stroke="#222" stroke-width="1.1" />
<line x1="544.40" y1="63.50" x2="548.60" y2="63.50" stroke="#222" stroke-width="1.1" />
<line x1="545.40" y1="51.10" x2="548.60" y2="51.10" stroke="#222" stroke-width="1.1" />
<line x1="544.40" y1="38.50" x2="548.60" y2="38.50" stroke="#222" stroke-width="1.1" />
<line x1="545.40" y1="25.30" x2="548.60" y2="25.30" stroke="#222" stroke-width="1.1" />
<line x1="548.60" y1="114.00" x2="685.00" y2="114.00" stroke="#333" stroke-width="1.1" />
<text x="469.30" y="24.00" font-size="10" text-anchor="middle" fill="#111" stroke="#111" stroke-width="0.18" font-weight="normal" font-style="normal" >GA<tspan font-size="6.80" dy="2.80">12</tspan><tspan dy="-2.80"> </tspan></text>
<text x="437.20" y="39.70" font-size="10" text-anchor="start" fill="#111" stroke="#111" stroke-width="0.18" font-weight="normal" font-style="normal" ><tspan font-style="italic">m/z</tspan>: 331.18914</text>
<text x="587.80" y="23.30" font-size="10" text-anchor="start" fill="#111" stroke="#111" stroke-width="0.18" font-weight="normal" font-style="normal" >GA<tspan font-size="6.80" dy="2.80">12</tspan><tspan dy="-2.80"> </tspan>derivative</text>
<text x="571.70" y="42.00" font-size="10" text-anchor="start" fill="#111" stroke="#111" stroke-width="0.18" font-weight="normal" font-style="normal" ><tspan font-style="italic">m/z</tspan>: 349.20119</text>
<polyline points="412.00,113.30 441.60,113.30 442.30,111.00 444.00,110.80 445.20,112.30 446.30,111.50 448.80,111.50 450.00,113.30 464.00,113.30 467.60,108.70 468.40,113.60 470.40,52.20 471.70,113.60 472.20,108.50 474.90,113.30 541.00,113.30" fill="none" stroke="#f7a21b" stroke-width="1.3" stroke-linejoin="round" />
<polyline points="548.80,107.10 553.80,108.20 555.10,109.30 558.10,109.60 559.40,110.80 577.80,110.80 579.20,109.30 582.20,109.30 584.00,107.60 586.20,101.90 587.90,93.10 589.00,91.20 590.40,93.10 591.80,100.10 593.60,108.50 594.90,109.30 598.90,109.30 600.20,110.80 685.00,110.80" fill="none" stroke="#f7a21b" stroke-width="1.3" stroke-linejoin="round" />
<line x1="411.60" y1="152.90" x2="411.60" y2="255.70" stroke="#222" stroke-width="1.1" />
<line x1="407.40" y1="255.20" x2="411.60" y2="255.20" stroke="#222" stroke-width="1.1" />
<text x="403.60" y="259.40" font-size="10.5" text-anchor="end" fill="#111" stroke="#111" stroke-width="0.18" font-weight="normal" font-style="normal" >0</text>
<line x1="408.40" y1="241.90" x2="411.60" y2="241.90" stroke="#222" stroke-width="1.1" />
<line x1="407.40" y1="230.10" x2="411.60" y2="230.10" stroke="#222" stroke-width="1.1" />
<text x="403.60" y="234.30" font-size="10.5" text-anchor="end" fill="#111" stroke="#111" stroke-width="0.18" font-weight="normal" font-style="normal" >2</text>
<line x1="408.40" y1="217.00" x2="411.60" y2="217.00" stroke="#222" stroke-width="1.1" />
<line x1="407.40" y1="205.10" x2="411.60" y2="205.10" stroke="#222" stroke-width="1.1" />
<text x="403.60" y="209.30" font-size="10.5" text-anchor="end" fill="#111" stroke="#111" stroke-width="0.18" font-weight="normal" font-style="normal" >4</text>
<line x1="408.40" y1="191.90" x2="411.60" y2="191.90" stroke="#222" stroke-width="1.1" />
<line x1="407.40" y1="180.20" x2="411.60" y2="180.20" stroke="#222" stroke-width="1.1" />
<text x="403.60" y="184.40" font-size="10.5" text-anchor="end" fill="#111" stroke="#111" stroke-width="0.18" font-weight="normal" font-style="normal" >6</text>
<line x1="408.40" y1="167.10" x2="411.60" y2="167.10" stroke="#222" stroke-width="1.1" />
<text x="404.00" y="171.20" font-size="10.5" text-anchor="end" fill="#111" stroke="#111" stroke-width="0.18" font-weight="normal" font-style="normal" ><tspan font-size="12">×</tspan>10<tspan font-size="7.6" dy="-5.0">7</tspan></text>
<text x="0" y="0" font-size="11.2" text-anchor="middle" fill="#111" stroke="#111" stroke-width="0.18" transform="translate(376.0,202.80) rotate(-90)">Intensity</text>
<text x="366.00" y="148.30" font-size="16" text-anchor="start" fill="#000" stroke="#000" stroke-width="0.1" font-weight="bold" font-style="normal" >g</text>
<line x1="411.60" y1="255.30" x2="541.50" y2="255.30" stroke="#333" stroke-width="1.1" />
<line x1="547.60" y1="154.00" x2="547.60" y2="256.70" stroke="#666" stroke-width="1.1" />
<line x1="543.40" y1="256.20" x2="547.60" y2="256.20" stroke="#222" stroke-width="1.1" />
<line x1="544.40" y1="244.20" x2="547.60" y2="244.20" stroke="#222" stroke-width="1.1" />
<line x1="543.40" y1="229.60" x2="547.60" y2="229.60" stroke="#222" stroke-width="1.1" />
<line x1="544.40" y1="217.70" x2="547.60" y2="217.70" stroke="#222" stroke-width="1.1" />
<line x1="543.40" y1="203.30" x2="547.60" y2="203.30" stroke="#222" stroke-width="1.1" />
<line x1="544.40" y1="191.10" x2="547.60" y2="191.10" stroke="#222" stroke-width="1.1" />
<line x1="543.40" y1="178.30" x2="547.60" y2="178.30" stroke="#222" stroke-width="1.1" />
<line x1="544.40" y1="164.30" x2="547.60" y2="164.30" stroke="#222" stroke-width="1.1" />
<line x1="547.60" y1="256.00" x2="685.00" y2="256.00" stroke="#333" stroke-width="1.1" />
<text x="442.60" y="168.00" font-size="10" text-anchor="start" fill="#111" stroke="#111" stroke-width="0.18" font-weight="normal" font-style="normal" ><tspan font-style="italic">m/z</tspan>: 331.18914</text>
<text x="567.10" y="168.30" font-size="10" text-anchor="start" fill="#111" stroke="#111" stroke-width="0.18" font-weight="normal" font-style="normal" ><tspan font-style="italic">m/z</tspan>: 349.20119</text>
<polyline points="412.00,253.30 424.00,253.30 424.80,251.80 426.00,251.80 426.60,253.30 430.50,253.30 431.50,251.60 432.60,253.30 437.80,253.30 439.00,251.20 441.00,251.00 442.00,252.50 443.00,251.20 444.50,252.40 445.60,251.10 447.00,251.20 448.20,253.30 464.50,253.30 465.20,250.80 466.00,253.00 467.00,250.00 467.80,252.50 469.80,191.90 471.60,252.50 472.50,250.50 473.40,252.00 474.50,251.20 475.50,253.00 476.50,250.80 477.30,253.30 541.00,253.30" fill="none" stroke="#1e8c1e" stroke-width="1.3" stroke-linejoin="round" />
<polyline points="548.20,250.90 550.00,253.30 552.00,251.20 555.00,251.20 556.50,253.30 570.00,253.30 571.00,251.50 572.50,252.80 574.00,251.50 579.00,251.20 580.50,250.00 581.60,248.00 582.60,250.50 582.90,249.80 584.50,228.00 585.70,210.80 586.80,187.90 587.60,176.50 588.50,172.40 589.40,176.50 590.30,187.90 591.10,210.80 592.00,233.70 592.50,250.30 593.50,247.50 595.00,248.20 596.00,251.00 597.20,249.20 598.50,252.00 600.00,250.50 601.50,253.00 603.50,251.50 605.50,253.30 684.50,253.30" fill="none" stroke="#1e8c1e" stroke-width="1.3" stroke-linejoin="round" />
<line x1="411.60" y1="297.40" x2="411.60" y2="399.50" stroke="#222" stroke-width="1.1" />
<line x1="407.40" y1="399.00" x2="411.60" y2="399.00" stroke="#222" stroke-width="1.1" />
<text x="403.60" y="403.20" font-size="10.5" text-anchor="end" fill="#111" stroke="#111" stroke-width="0.18" font-weight="normal" font-style="normal" >0</text>
<line x1="408.40" y1="386.20" x2="411.60" y2="386.20" stroke="#222" stroke-width="1.1" />
<line x1="407.40" y1="374.50" x2="411.60" y2="374.50" stroke="#222" stroke-width="1.1" />
<text x="403.60" y="378.70" font-size="10.5" text-anchor="end" fill="#111" stroke="#111" stroke-width="0.18" font-weight="normal" font-style="normal" >2</text>
<line x1="408.40" y1="361.40" x2="411.60" y2="361.40" stroke="#222" stroke-width="1.1" />
<line x1="407.40" y1="349.50" x2="411.60" y2="349.50" stroke="#222" stroke-width="1.1" />
<text x="403.60" y="353.70" font-size="10.5" text-anchor="end" fill="#111" stroke="#111" stroke-width="0.18" font-weight="normal" font-style="normal" >4</text>
<line x1="408.40" y1="336.30" x2="411.60" y2="336.30" stroke="#222" stroke-width="1.1" />
<line x1="407.40" y1="324.60" x2="411.60" y2="324.60" stroke="#222" stroke-width="1.1" />
<text x="403.60" y="328.80" font-size="10.5" text-anchor="end" fill="#111" stroke="#111" stroke-width="0.18" font-weight="normal" font-style="normal" >6</text>
<line x1="408.40" y1="311.30" x2="411.60" y2="311.30" stroke="#222" stroke-width="1.1" />
<text x="404.00" y="315.40" font-size="10.5" text-anchor="end" fill="#111" stroke="#111" stroke-width="0.18" font-weight="normal" font-style="normal" ><tspan font-size="12">×</tspan>10<tspan font-size="7.6" dy="-5.0">7</tspan></text>
<text x="0" y="0" font-size="11.2" text-anchor="middle" fill="#111" stroke="#111" stroke-width="0.18" transform="translate(376.0,347.70) rotate(-90)">Intensity</text>
<text x="366.10" y="289.40" font-size="16" text-anchor="start" fill="#000" stroke="#000" stroke-width="0.1" font-weight="bold" font-style="normal" >h</text>
<line x1="411.60" y1="399.60" x2="540.80" y2="399.60" stroke="#333" stroke-width="1.1" />
<line x1="548.10" y1="298.60" x2="548.10" y2="400.70" stroke="#777" stroke-width="1.1" />
<line x1="543.90" y1="400.20" x2="548.10" y2="400.20" stroke="#222" stroke-width="1.1" />
<line x1="544.90" y1="386.20" x2="548.10" y2="386.20" stroke="#222" stroke-width="1.1" />
<line x1="543.90" y1="371.20" x2="548.10" y2="371.20" stroke="#222" stroke-width="1.1" />
<line x1="544.90" y1="357.40" x2="548.10" y2="357.40" stroke="#222" stroke-width="1.1" />
<line x1="543.90" y1="343.40" x2="548.10" y2="343.40" stroke="#222" stroke-width="1.1" />
<line x1="544.90" y1="329.60" x2="548.10" y2="329.60" stroke="#222" stroke-width="1.1" />
<line x1="543.90" y1="314.30" x2="548.10" y2="314.30" stroke="#222" stroke-width="1.1" />
<line x1="544.90" y1="302.20" x2="548.10" y2="302.20" stroke="#222" stroke-width="1.1" />
<line x1="548.10" y1="400.70" x2="685.00" y2="400.70" stroke="#777" stroke-width="1.4" />
<polyline points="412.00,398.40 433.20,398.40 433.40,395.20 437.00,395.20 437.60,398.20 438.80,388.20 440.00,388.50 441.50,398.20 443.30,391.50 445.00,398.20 445.50,395.20 449.50,395.20 449.80,398.40 540.80,398.40" fill="none" stroke="#fb6a14" stroke-width="1.3" stroke-linejoin="round" />
<polyline points="546.40,388.10 547.80,399.20" fill="none" stroke="#fb6a14" stroke-width="1.0" stroke-linejoin="round" />
<polyline points="548.50,399.00 685.00,399.00" fill="none" stroke="#fb6a14" stroke-width="1.4" stroke-linejoin="round" />
<line x1="411.70" y1="440.30" x2="411.70" y2="543.10" stroke="#222" stroke-width="1.1" />
<line x1="407.50" y1="542.60" x2="411.70" y2="542.60" stroke="#222" stroke-width="1.1" />
<text x="403.70" y="546.80" font-size="10.5" text-anchor="end" fill="#111" stroke="#111" stroke-width="0.18" font-weight="normal" font-style="normal" >0</text>
<line x1="408.50" y1="529.40" x2="411.70" y2="529.40" stroke="#222" stroke-width="1.1" />
<line x1="407.50" y1="517.80" x2="411.70" y2="517.80" stroke="#222" stroke-width="1.1" />
<text x="403.70" y="522.00" font-size="10.5" text-anchor="end" fill="#111" stroke="#111" stroke-width="0.18" font-weight="normal" font-style="normal" >2</text>
<line x1="408.50" y1="504.60" x2="411.70" y2="504.60" stroke="#222" stroke-width="1.1" />
<line x1="407.50" y1="493.20" x2="411.70" y2="493.20" stroke="#222" stroke-width="1.1" />
<text x="403.70" y="497.40" font-size="10.5" text-anchor="end" fill="#111" stroke="#111" stroke-width="0.18" font-weight="normal" font-style="normal" >4</text>
<line x1="408.50" y1="479.30" x2="411.70" y2="479.30" stroke="#222" stroke-width="1.1" />
<line x1="407.50" y1="468.00" x2="411.70" y2="468.00" stroke="#222" stroke-width="1.1" />
<text x="403.70" y="472.20" font-size="10.5" text-anchor="end" fill="#111" stroke="#111" stroke-width="0.18" font-weight="normal" font-style="normal" >6</text>
<line x1="408.50" y1="454.30" x2="411.70" y2="454.30" stroke="#222" stroke-width="1.1" />
<text x="404.10" y="458.40" font-size="10.5" text-anchor="end" fill="#111" stroke="#111" stroke-width="0.18" font-weight="normal" font-style="normal" ><tspan font-size="12">×</tspan>10<tspan font-size="7.6" dy="-5.0">7</tspan></text>
<text x="0" y="0" font-size="11.2" text-anchor="middle" fill="#111" stroke="#111" stroke-width="0.18" transform="translate(376.0,490.50) rotate(-90)">Intensity</text>
<text x="366.10" y="433.60" font-size="16" text-anchor="start" fill="#000" stroke="#000" stroke-width="0.1" font-weight="bold" font-style="normal" >i</text>
<line x1="411.70" y1="542.50" x2="540.80" y2="542.50" stroke="#333" stroke-width="1.1" />
<line x1="548.60" y1="441.00" x2="548.60" y2="543.70" stroke="#222" stroke-width="1.1" />
<line x1="544.40" y1="543.20" x2="548.60" y2="543.20" stroke="#222" stroke-width="1.1" />
<line x1="545.40" y1="529.20" x2="548.60" y2="529.20" stroke="#222" stroke-width="1.1" />
<line x1="544.40" y1="516.60" x2="548.60" y2="516.60" stroke="#222" stroke-width="1.1" />
<line x1="545.40" y1="503.10" x2="548.60" y2="503.10" stroke="#222" stroke-width="1.1" />
<line x1="544.40" y1="490.30" x2="548.60" y2="490.30" stroke="#222" stroke-width="1.1" />
<line x1="545.40" y1="476.40" x2="548.60" y2="476.40" stroke="#222" stroke-width="1.1" />
<line x1="544.40" y1="462.20" x2="548.60" y2="462.20" stroke="#222" stroke-width="1.1" />
<line x1="545.40" y1="450.00" x2="548.60" y2="450.00" stroke="#222" stroke-width="1.1" />
<line x1="548.60" y1="543.20" x2="685.00" y2="543.20" stroke="#333" stroke-width="1.1" />
<text x="443.90" y="472.40" font-size="10" text-anchor="start" fill="#111" stroke="#111" stroke-width="0.18" font-weight="normal" font-style="normal" ><tspan font-style="italic">m/z</tspan>: 331.18914</text>
<text x="568.00" y="474.30" font-size="10" text-anchor="start" fill="#111" stroke="#111" stroke-width="0.18" font-weight="normal" font-style="normal" ><tspan font-style="italic">m/z</tspan>: 349.20119</text>
<polyline points="412.00,540.40 418.30,540.40 419.00,538.20 419.80,540.40 435.80,540.40 437.50,538.30 439.00,538.10 440.50,539.80 441.50,538.30 442.80,538.60 443.80,539.60 445.00,538.20 446.50,538.00 448.00,538.80 449.80,540.40 461.50,540.40 462.20,538.60 463.20,540.30 464.50,539.50 465.50,540.20 466.50,537.50 467.20,539.80 469.60,486.50 471.30,539.50 472.20,537.80 473.20,539.20 474.20,538.50 475.30,539.60 476.50,538.20 477.50,540.40 504.60,540.40 505.30,538.30 506.00,540.40 540.80,540.40" fill="none" stroke="#4a6cf0" stroke-width="1.3" stroke-linejoin="round" />
<polyline points="548.40,538.00 549.80,540.80 550.80,538.80 552.20,538.80 553.00,541.70 581.50,541.70 583.00,539.50 585.00,539.00 587.50,534.00 590.00,530.90 592.50,535.00 594.50,539.50 595.80,541.70 685.00,541.70" fill="none" stroke="#4a6cf0" stroke-width="1.3" stroke-linejoin="round" />
<line x1="418.60" y1="543.60" x2="418.60" y2="547.60" stroke="#333" stroke-width="0.9" />
<line x1="424.00" y1="543.60" x2="424.00" y2="547.60" stroke="#333" stroke-width="0.9" />
<line x1="429.40" y1="543.60" x2="429.40" y2="547.60" stroke="#333" stroke-width="0.9" />
<line x1="434.80" y1="543.60" x2="434.80" y2="550.50" stroke="#333" stroke-width="0.9" />
<line x1="440.20" y1="543.60" x2="440.20" y2="547.60" stroke="#333" stroke-width="0.9" />
<line x1="445.60" y1="543.60" x2="445.60" y2="547.60" stroke="#333" stroke-width="0.9" />
<line x1="451.00" y1="543.60" x2="451.00" y2="547.60" stroke="#333" stroke-width="0.9" />
<line x1="456.40" y1="543.60" x2="456.40" y2="547.60" stroke="#333" stroke-width="0.9" />
<line x1="461.80" y1="543.60" x2="461.80" y2="550.50" stroke="#333" stroke-width="0.9" />
<line x1="467.20" y1="543.60" x2="467.20" y2="547.60" stroke="#333" stroke-width="0.9" />
<line x1="472.60" y1="543.60" x2="472.60" y2="547.60" stroke="#333" stroke-width="0.9" />
<line x1="478.00" y1="543.60" x2="478.00" y2="547.60" stroke="#333" stroke-width="0.9" />
<line x1="483.40" y1="543.60" x2="483.40" y2="547.60" stroke="#333" stroke-width="0.9" />
<line x1="488.80" y1="543.60" x2="488.80" y2="550.50" stroke="#333" stroke-width="0.9" />
<line x1="494.20" y1="543.60" x2="494.20" y2="547.60" stroke="#333" stroke-width="0.9" />
<line x1="499.60" y1="543.60" x2="499.60" y2="547.60" stroke="#333" stroke-width="0.9" />
<line x1="505.00" y1="543.60" x2="505.00" y2="547.60" stroke="#333" stroke-width="0.9" />
<line x1="510.40" y1="543.60" x2="510.40" y2="547.60" stroke="#333" stroke-width="0.9" />
<line x1="515.80" y1="543.60" x2="515.80" y2="550.50" stroke="#333" stroke-width="0.9" />
<line x1="552.00" y1="544.80" x2="552.00" y2="549.00" stroke="#333" stroke-width="0.9" />
<line x1="559.23" y1="544.80" x2="559.23" y2="549.00" stroke="#333" stroke-width="0.9" />
<line x1="566.46" y1="544.80" x2="566.46" y2="549.00" stroke="#333" stroke-width="0.9" />
<line x1="573.69" y1="544.80" x2="573.69" y2="549.00" stroke="#333" stroke-width="0.9" />
<line x1="580.92" y1="544.80" x2="580.92" y2="551.30" stroke="#333" stroke-width="0.9" />
<line x1="588.15" y1="544.80" x2="588.15" y2="549.00" stroke="#333" stroke-width="0.9" />
<line x1="595.38" y1="544.80" x2="595.38" y2="549.00" stroke="#333" stroke-width="0.9" />
<line x1="602.61" y1="544.80" x2="602.61" y2="549.00" stroke="#333" stroke-width="0.9" />
<line x1="609.84" y1="544.80" x2="609.84" y2="549.00" stroke="#333" stroke-width="0.9" />
<line x1="617.07" y1="544.80" x2="617.07" y2="551.30" stroke="#333" stroke-width="0.9" />
<line x1="624.30" y1="544.80" x2="624.30" y2="549.00" stroke="#333" stroke-width="0.9" />
<line x1="631.53" y1="544.80" x2="631.53" y2="549.00" stroke="#333" stroke-width="0.9" />
<line x1="638.76" y1="544.80" x2="638.76" y2="549.00" stroke="#333" stroke-width="0.9" />
<line x1="645.99" y1="544.80" x2="645.99" y2="549.00" stroke="#333" stroke-width="0.9" />
<line x1="653.22" y1="544.80" x2="653.22" y2="551.30" stroke="#333" stroke-width="0.9" />
<line x1="660.45" y1="544.80" x2="660.45" y2="549.00" stroke="#333" stroke-width="0.9" />
<text x="539.40" y="566.00" font-size="11" text-anchor="start" fill="#111" stroke="#111" stroke-width="0.18" font-weight="normal" font-style="normal" ><tspan font-style="italic">m/z</tspan></text>
<line x1="413.00" y1="607.50" x2="413.00" y2="790.00" stroke="#333" stroke-width="1.3" />
<line x1="409.60" y1="790.30" x2="685.00" y2="790.30" stroke="#333" stroke-width="1.5" />
<line x1="409.10" y1="607.50" x2="413.00" y2="607.50" stroke="#333" stroke-width="1.1" />
<line x1="410.60" y1="625.73" x2="413.00" y2="625.73" stroke="#333" stroke-width="1.1" />
<line x1="409.10" y1="643.96" x2="413.00" y2="643.96" stroke="#333" stroke-width="1.1" />
<line x1="410.60" y1="662.19" x2="413.00" y2="662.19" stroke="#333" stroke-width="1.1" />
<line x1="409.10" y1="680.42" x2="413.00" y2="680.42" stroke="#333" stroke-width="1.1" />
<line x1="410.60" y1="698.65" x2="413.00" y2="698.65" stroke="#333" stroke-width="1.1" />
<line x1="409.10" y1="716.88" x2="413.00" y2="716.88" stroke="#333" stroke-width="1.1" />
<line x1="410.60" y1="735.11" x2="413.00" y2="735.11" stroke="#333" stroke-width="1.1" />
<line x1="409.10" y1="753.34" x2="413.00" y2="753.34" stroke="#333" stroke-width="1.1" />
<line x1="410.60" y1="771.57" x2="413.00" y2="771.57" stroke="#333" stroke-width="1.1" />
<line x1="409.10" y1="789.80" x2="413.00" y2="789.80" stroke="#333" stroke-width="1.1" />
<text x="404.80" y="611.20" font-size="10.5" text-anchor="end" fill="#111" stroke="#111" stroke-width="0.18" font-weight="normal" font-style="normal" >8</text>
<text x="404.80" y="656.80" font-size="10.5" text-anchor="end" fill="#111" stroke="#111" stroke-width="0.18" font-weight="normal" font-style="normal" >6</text>
<text x="404.80" y="702.70" font-size="10.5" text-anchor="end" fill="#111" stroke="#111" stroke-width="0.18" font-weight="normal" font-style="normal" >4</text>
<text x="404.80" y="748.80" font-size="10.5" text-anchor="end" fill="#111" stroke="#111" stroke-width="0.18" font-weight="normal" font-style="normal" >2</text>
<text x="404.80" y="793.90" font-size="10.5" text-anchor="end" fill="#111" stroke="#111" stroke-width="0.18" font-weight="normal" font-style="normal" >0</text>
<text x="0" y="0" font-size="11.35" text-anchor="middle" fill="#111" stroke="#111" stroke-width="0.18" transform="translate(389.0,698.5) rotate(-90)">Relative intensity of new GA</text>
<text x="366.50" y="609.50" font-size="16" text-anchor="start" fill="#000" stroke="#000" stroke-width="0.1" font-weight="bold" font-style="normal" >j</text>
<rect x="445.80" y="786.10" width="24.90" height="4.20" fill="#c2c2c2" stroke="#222" stroke-width="1.2"/>
<rect x="536.40" y="770.20" width="25.20" height="20.10" fill="#c2c2c2" stroke="#222" stroke-width="1.2"/>
<rect x="627.40" y="691.20" width="24.30" height="99.10" fill="#c2c2c2" stroke="#222" stroke-width="1.2"/>
<line x1="458.40" y1="787.60" x2="458.40" y2="783.60" stroke="#222" stroke-width="1.3" />
<line x1="456.60" y1="787.60" x2="460.20" y2="787.60" stroke="#222" stroke-width="1.3" />
<line x1="456.60" y1="783.60" x2="460.20" y2="783.60" stroke="#222" stroke-width="1.3" />
<line x1="548.80" y1="777.50" x2="548.80" y2="763.50" stroke="#222" stroke-width="1.3" />
<line x1="547.00" y1="777.50" x2="550.60" y2="777.50" stroke="#222" stroke-width="1.3" />
<line x1="547.00" y1="763.50" x2="550.60" y2="763.50" stroke="#222" stroke-width="1.3" />
<line x1="639.50" y1="735.50" x2="639.50" y2="647.80" stroke="#222" stroke-width="1.3" />
<line x1="637.70" y1="735.50" x2="641.30" y2="735.50" stroke="#222" stroke-width="1.3" />
<line x1="637.70" y1="647.80" x2="641.30" y2="647.80" stroke="#222" stroke-width="1.3" />
<circle cx="449.1" cy="787.5" r="2.9" fill="#fff" fill-opacity="0.6" stroke="#8a8a8a" stroke-width="0.9"/>
<circle cx="458.4" cy="783.7" r="2.9" fill="#fff" fill-opacity="0.6" stroke="#8a8a8a" stroke-width="0.9"/>
<circle cx="467.4" cy="785.8" r="2.9" fill="#fff" fill-opacity="0.6" stroke="#8a8a8a" stroke-width="0.9"/>
<circle cx="544.3" cy="760.3" r="2.9" fill="#fff" fill-opacity="0.6" stroke="#8a8a8a" stroke-width="0.9"/>
<circle cx="539.7" cy="772.0" r="2.9" fill="#fff" fill-opacity="0.6" stroke="#8a8a8a" stroke-width="0.9"/>
<circle cx="553.2" cy="775.2" r="2.9" fill="#fff" fill-opacity="0.6" stroke="#8a8a8a" stroke-width="0.9"/>
<circle cx="558.1" cy="774.6" r="2.9" fill="#fff" fill-opacity="0.6" stroke="#8a8a8a" stroke-width="0.9"/>
<circle cx="630.3" cy="639.6" r="2.9" fill="#fff" fill-opacity="0.6" stroke="#8a8a8a" stroke-width="0.9"/>
<circle cx="648.7" cy="678.2" r="2.9" fill="#fff" fill-opacity="0.6" stroke="#8a8a8a" stroke-width="0.9"/>
<circle cx="635.1" cy="704.1" r="2.9" fill="#fff" fill-opacity="0.6" stroke="#8a8a8a" stroke-width="0.9"/>
<circle cx="644.1" cy="744.2" r="2.9" fill="#fff" fill-opacity="0.6" stroke="#8a8a8a" stroke-width="0.9"/>
<polygon points="549.30,747.40 549.98,749.17 551.87,749.27 550.39,750.46 550.89,752.28 549.30,751.25 547.71,752.28 548.21,750.46 546.73,749.27 548.62,749.17" fill="#111" />
<polygon points="638.60,629.70 639.28,631.47 641.17,631.57 639.69,632.76 640.19,634.58 638.60,633.55 637.01,634.58 637.51,632.76 636.03,631.57 637.92,631.47" fill="#111" />
<text x="458.00" y="804.00" font-size="11" text-anchor="middle" fill="#111" stroke="#111" stroke-width="0.18" font-weight="normal" font-style="normal" >GFP</text>
<text x="548.60" y="804.00" font-size="11" text-anchor="middle" fill="#111" stroke="#111" stroke-width="0.18" font-weight="normal" font-style="normal" >GAS2-GFP</text>
<text x="639.90" y="804.00" font-size="11" text-anchor="middle" fill="#111" stroke="#111" stroke-width="0.18" font-weight="normal" font-style="normal" ><tspan font-style="italic">GAS2</tspan>-OE1</text>
</svg></body></html>
